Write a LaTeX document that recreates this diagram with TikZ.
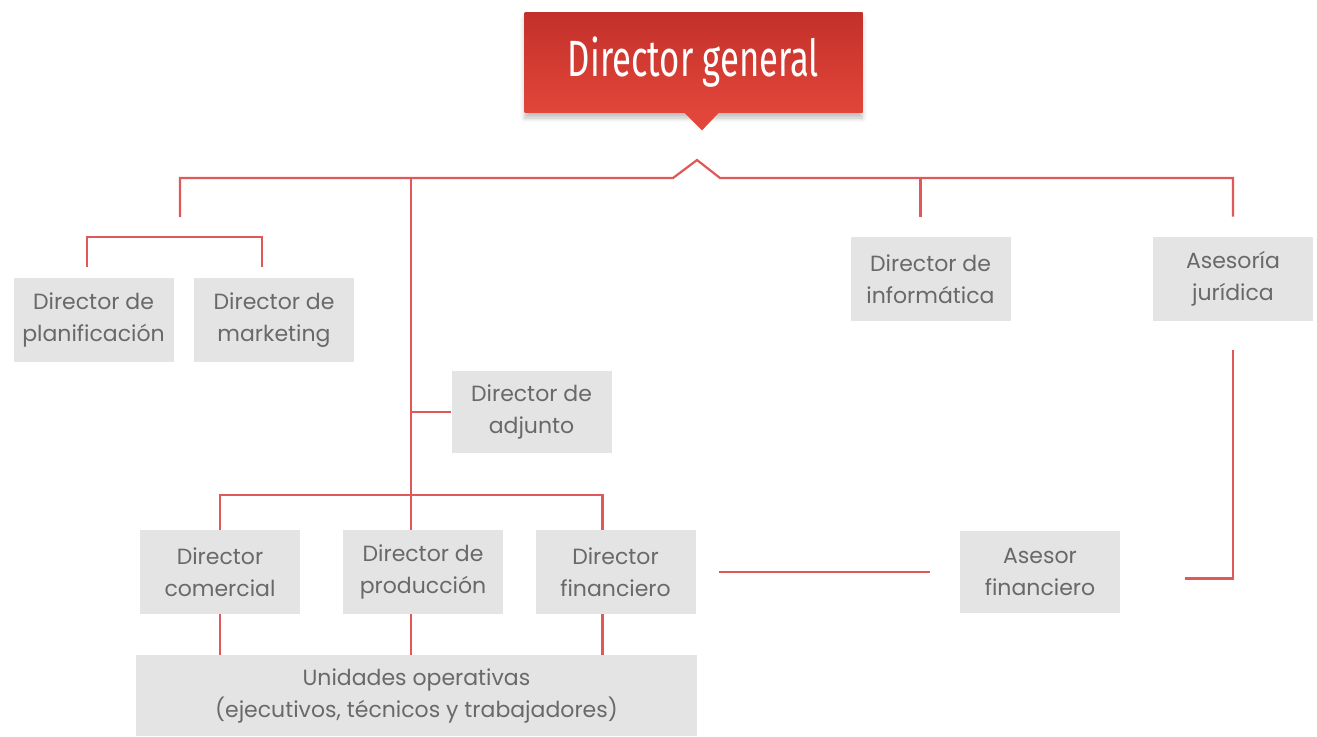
\documentclass[tikz,border=0pt]{standalone}
\usepackage{fontspec}
\setmainfont{Poppins}
\newfontfamily\titlefont[FakeStretch=0.68]{Fira Sans}
\usetikzlibrary{shadows.blur}
\definecolor{rojo}{RGB}{224,88,88}
\definecolor{rojoA}{RGB}{194,48,42}
\definecolor{rojoB}{RGB}{226,70,58}
\definecolor{gris}{RGB}{228,228,228}
\definecolor{texto}{RGB}{105,105,105}
\begin{document}
\begin{tikzpicture}[x=0.5pt, y=-0.5pt, line join=miter,
	caja/.style={fill=gris, text=texto, align=center, inner sep=0pt, minimum width=80pt, minimum height=42pt, font=\fontsize{11}{16}\selectfont},
	link/.style={draw=rojo, line width=1.1pt}]
	\useasboundingbox (0,0) rectangle (1317,736);
	% director general
	\node[top color=rojoA, bottom color=rojoB, text=white, minimum width=169pt, minimum height=50pt, inner sep=0pt,
		blur shadow={shadow xshift=0pt, shadow yshift=-3pt, shadow opacity=25},
		font=\titlefont\fontsize{25.5}{25.5}\selectfont] (gen) at (693.5,62) {Director general};
	\fill[rojoB] ([xshift=-5.25pt,yshift=0.5pt]gen.south) -- ([xshift=4.25pt,yshift=-9pt]gen.south) -- ([xshift=13.25pt,yshift=0.5pt]gen.south) -- cycle;
	% cajas
	\node[caja] (plan) at (93.5,320) {Director de\\planificación};
	\node[caja] (mkt) at (274,320) {Director de\\marketing};
	\node[caja] (info) at (930.5,279) {Director de\\informática};
	\node[caja] (jur) at (1233,279) {Asesoría\\jurídica};
	\node[caja, minimum height=41pt] (adj) at (531.5,412) {Director de\\adjunto};
	\node[caja] (com) at (220,572) {Director\\comercial};
	\node[caja] (prod) at (423,572) {Director de\\producción};
	\node[caja] (fin) at (615.5,572) {Director\\financiero};
	\node[caja, minimum height=41pt] (asf) at (1040,572) {Asesor\\financiero};
	\node[caja, minimum width=280.5pt, minimum height=40.5pt] (uni) at (416.5,695.5) {Unidades operativas\\(ejecutivos, técnicos y trabajadores)};
	% lineas
	\coordinate (hub) at (697,160);
	\coordinate (izq) at (180,217);
	\coordinate (eje) at (411,178);
	\draw[link] (izq) |- ([xshift=-12pt,yshift=-9pt]hub) -- (hub) -- ([xshift=11.5pt,yshift=-9pt]hub) -| ([yshift=10pt]jur.north);
	\draw[link] ([xshift=-5pt]info.north |- eje) -- ([xshift=-5pt,yshift=10pt]info.north);
	\draw[link] ([xshift=-3.25pt,yshift=5.5pt]plan.north) -- ++(0,-30) -| ([xshift=-6pt,yshift=5.5pt]mkt.north);
	\draw[link] (eje) -- ([xshift=-6pt]prod.north);
	\draw[link] (adj.west -| eje) -- (adj.west);
	\draw[link] (com.north) -- ++(0,-35) -| ([xshift=-6.5pt]fin.north);
	\draw[link] (com.south) -- (com.south |- uni.north);
	\draw[link] ([xshift=-6pt]prod.south) -- ++(0,41);
	\draw[link] ([xshift=-6.5pt]fin.south) -- ++(0,41);
	\draw[link] ([xshift=11.5pt]fin.east) -- ([xshift=-15pt]asf.west);
	\draw[link] ([yshift=-14.5pt]jur.south) -- ++(0,228) -- ++(-48,0);
\end{tikzpicture}
\end{document}
